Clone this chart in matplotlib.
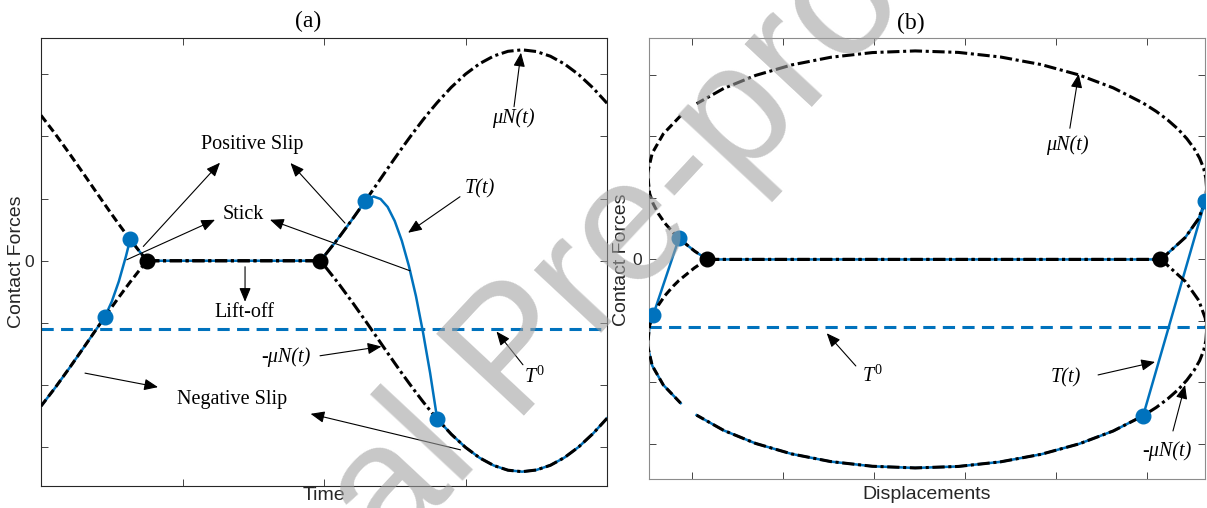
import matplotlib.pyplot as plt

plt.rcParams['font.family'] = ['Liberation Sans', 'DejaVu Sans']
plt.rcParams['mathtext.fontset'] = 'custom'
plt.rcParams['mathtext.rm'] = 'Liberation Serif'
plt.rcParams['mathtext.it'] = 'Liberation Serif:italic'

# time history of one contact point over one cycle
t = [0.0, 0.1, 0.2, 0.3, 0.4, 0.45, 0.5, 0.55, 0.6, 0.63, 0.7, 0.75,
     1.975, 2.0, 2.1, 2.2, 2.29, 2.35, 2.4, 2.45, 2.5, 2.55, 2.6, 2.65,
     2.7, 2.75, 2.8, 2.9, 3.0, 3.1, 3.2, 3.3, 3.4, 3.5, 3.6, 3.7, 3.8,
     3.9, 4.0]
# friction limit mu*N(t) (zero while the contact is open)
mu_N = [2.337, 2.041, 1.726, 1.401, 1.071, 0.908, 0.746, 0.587, 0.433,
        0.342, 0.139, 0.0, 0.0, 0.070, 0.357, 0.666, 0.956, 1.153, 1.318,
        1.483, 1.646, 1.807, 1.964, 2.117, 2.266, 2.407, 2.542, 2.789,
        2.999, 3.168, 3.291, 3.366, 3.390, 3.363, 3.287, 3.162, 2.992,
        2.780, 2.532]
# relative tangential displacement
disp = [-2.625, -2.816, -2.938, -2.989, -2.966, -2.928, -2.871, -2.797,
        -2.706, -2.644, -2.475, -2.336, 2.642, 2.706, 2.920, 3.068, 3.140,
        3.155, 3.147, 3.122, 3.078, 3.016, 2.937, 2.842, 2.728, 2.601,
        2.457, 2.129, 1.753, 1.337, 0.890, 0.425, -0.048, -0.519, -0.975,
        -1.406, -1.801, -2.152, -2.450]
# tangential contact force T(t)
T = [-2.337, -2.041, -1.726, -1.401, -1.071, -0.908, -0.657, -0.332,
     0.069, 0.342, 0.139, 0.0, 0.0, 0.070, 0.357, 0.666, 0.956, 1.033,
     0.992, 0.864, 0.638, 0.321, -0.084, -0.570, -1.154, -1.804, -2.542,
     -2.789, -2.999, -3.168, -3.291, -3.366, -3.390, -3.363, -3.287,
     -3.162, -2.992, -2.780, -2.532]
T0 = -1.1                              # pre-load
switch_t = [0.45, 0.63, 2.29, 2.80]    # stick <-> slip transitions
liftoff_t = [0.75, 1.975]              # separation / recontact

blue = '#0072BD'
serif = 'Liberation Serif'
i_sw = [t.index(v) for v in switch_t]
i_lo = [t.index(v) for v in liftoff_t]
n1 = i_lo[0] + 1

fig = plt.figure(figsize=(12.07, 5.08), dpi=100)
ax1 = fig.add_axes([41/1207, 22/508, 566/1207, 448/508])
ax2 = fig.add_axes([649/1207, 29/508, 556/1207, 441/508])


def draw(ax, x):
    ax.axhline(T0, color=blue, lw=2.2, dashes=(4, 2.4), zorder=1)
    ax.plot(x, T, color=blue, lw=1.8, zorder=2)
    lim_m = [-v for v in mu_N]
    for y in (mu_N, lim_m):
        ax.plot(x[:n1], y[:n1], color='k', lw=2.2, dashes=(2.7, 1.3), zorder=3)
        ax.plot(x[n1-1:], y[n1-1:], color='k', lw=2.2,
                dashes=(4, 1.2, 1, 1.2), zorder=3)
    ax.plot([x[i] for i in i_sw], [T[i] for i in i_sw], 'o', ms=10.5,
            color=blue, zorder=5)
    ax.plot([x[i] for i in i_lo], [T[i] for i in i_lo], 'o', ms=10.5,
            color='k', zorder=5)


def label(ax, s, xy, arrows, italic=False):
    ax.text(xy[0], xy[1], s, ha='center', va='center', fontsize=14.5,
            family=serif, fontstyle='italic' if italic else 'normal', zorder=6)
    for tail, head in arrows:
        ax.annotate('', xy=head, xytext=tail, zorder=6,
                    arrowprops=dict(arrowstyle='-|>,head_length=0.6,head_width=0.25',
                                    lw=0.8, color='k', shrinkA=0, shrinkB=0,
                                    mutation_scale=14))


draw(ax1, t)
draw(ax2, disp)

T0_txt = r'$\mathit{T}^{\mathit{0}}$'
label(ax1, 'Positive Slip', (1.491, 1.865),
      [((0.723, 0.230), (1.265, 1.576)), ((2.148, 0.606), (1.763, 1.571))])
label(ax1, 'Stick', (1.428, 0.740),
      [((0.606, 0.016), (1.230, 0.659)), ((2.608, -0.161), (1.618, 0.659))])
label(ax1, 'Lift-off', (1.435, -0.836), [((1.442, -0.096), (1.442, -0.659))])
label(ax1, 'Negative Slip', (1.350, -2.235),
      [((0.311, -1.806), (0.827, -2.031)), ((2.965, -3.039), (1.905, -2.460))])
label(ax1, 'T(t)', (3.102, 1.158), [((2.961, 1.029), (2.594, 0.450))], True)
label(ax1, 'μN(t)', (3.336, 2.299), [((3.343, 2.476), (3.392, 3.344))], True)
label(ax1, '-μN(t)', (1.731, -1.543), [((1.972, -1.527), (2.406, -1.378))], True)
label(ax1, T0_txt, (3.491, -1.865), [((3.406, -1.672), (3.219, -1.137))])

label(ax2, 'μN(t)', (1.621, 1.862), [((1.652, 2.133), (1.749, 3.016))], True)
label(ax2, T0_txt, (-0.522, -1.906), [((-0.700, -1.732), (-1.020, -1.200))])
label(ax2, 'T(t)', (1.610, -1.932), [((1.962, -1.878), (2.588, -1.667))], True)
label(ax2, '-μN(t)', (2.720, -3.125), [((2.785, -2.789), (2.918, -2.041))], True)

ax1.set_xlim(0, 4)
ax1.set_ylim(-3.62, 3.58)
ax1.set_xticks([1, 2, 3])
ax2.set_xlim(-2.973, 3.137)
ax2.set_ylim(-3.57, 3.60)
ax2.set_xticks([-2.5, -1.5, -0.5, 0.5, 1.5, 2.5])

for ax, edge in ((ax1, '#262626'), (ax2, '#8c8c8c')):
    ax.set_yticks([-3, -2, -1, 0, 1, 2, 3])
    ax.set_yticklabels(['', '', '', '0', '', '', ''])
    ax.set_xticklabels([])
    ax.tick_params(direction='in', length=5, width=0.6, top=True, right=True,
                   labelsize=12.5, pad=5, colors='#262626')
    for sp in ax.spines.values():
        sp.set_color(edge)
        sp.set_linewidth(0.8)

ax1.set_ylabel('Contact Forces', fontsize=14, va='center', color='#262626')
ax1.yaxis.set_label_coords(-0.044, 0.5)
ax2.set_ylabel('Contact Forces', fontsize=14, va='center', color='#262626')
ax2.yaxis.set_label_coords(-0.0486, 0.498)
ax1.set_xlabel('Time', fontsize=14, color='#262626')
ax1.xaxis.set_label_coords(0.5, -0.003)
ax2.set_xlabel('Displacements', fontsize=14, color='#262626')
ax2.xaxis.set_label_coords(0.5, -0.017)

fig.text(308/1207, 1 - 21/508, '(a)', ha='center', va='center',
         fontsize=17, family=serif)
fig.text(911/1207, 1 - 23/508, '(b)', ha='center', va='center',
         fontsize=17, family=serif)

fig.text(518/1207, 1 - 356/508, 'Journal Pre-proof', rotation=47,
         rotation_mode='anchor', ha='center', va='center', fontsize=125,
         family='Liberation Sans', color=(0.63, 0.63, 0.63), alpha=0.59,
         zorder=100)

fig.savefig('out.png', dpi=100)
